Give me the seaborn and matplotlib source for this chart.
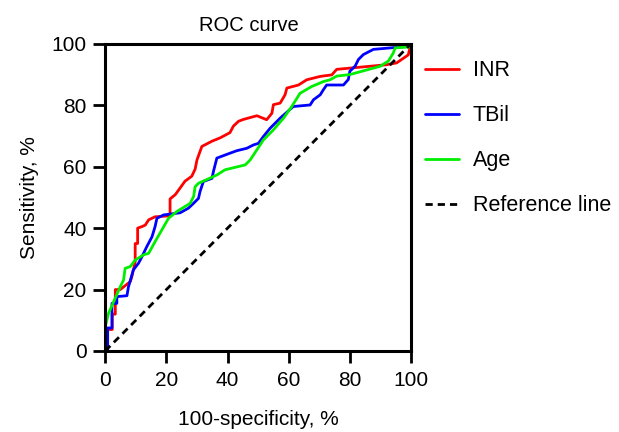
import seaborn as sns
import matplotlib.pyplot as plt
import pandas as pd

# Data (in %)
inr_x = [0, 0.7, 0.7, 2.3, 2.3, 3.3, 3.3, 4.9, 8.2, 8.7, 9.8, 9.8, 10.6, 10.6, 12.0, 13.1, 14.2,
         16.3, 21.2, 21.2, 22.9, 24.0, 26.1, 28.3, 29.4, 30.0, 31.6, 34.9, 37.6, 40.8, 41.9, 43.6,
         45.2, 49.6, 52.8, 54.5, 55.0, 57.2, 58.8, 59.4, 63.2, 65.9, 70.3, 74.1, 75.7, 92.0, 95.3,
         99.1, 100]
inr_y = [0, 0, 7, 7, 12, 12, 20, 20, 22.6, 24.2, 29, 35, 35, 40, 40.5, 41, 42.7,
         43.7, 44, 49.5, 50.9, 52.4, 55.3, 56.9, 59.2, 62.2, 66.6, 68.3, 69.4, 71.1, 73.2, 74.8,
         75.4, 76.6, 75.3, 77.4, 80.2, 80.7, 83.4, 85.6, 86.6, 88.3, 89.4, 89.9, 91.7, 93.2, 93.8,
         96.4, 100]

tbil_x = [0, 0.8, 0.8, 2.2, 2.2, 3.8, 3.8, 7.1, 7.6, 9.2, 10.9, 12.0, 13.6, 15.3, 16.3, 16.9,
          19.1, 24.5, 27.2, 28.9, 30.5, 31.0, 32.1, 34.9, 35.4, 36.5, 40.8, 43.0, 46.3, 48.5,
          50.1, 51.7, 53.9, 55.6, 57.2, 61.5, 67.0, 68.1, 70.3, 71.3, 72.4, 77.9, 79.5, 80.0,
          81.7, 82.8, 84.4, 87.7, 98.0, 99.1, 100]
tbil_y = [0, 0, 7.5, 7.5, 15.5, 15.5, 17.7, 18.0, 20.9, 26.4, 28.6, 30.7, 34.0, 37.2, 40.5, 43.2,
          44.3, 45.0, 46.5, 48.1, 49.7, 51.9, 55.2, 56.2, 58.5, 62.8, 64.4, 65.2, 66.0, 67.1,
          67.6, 69.8, 72.5, 74.2, 75.8, 79.6, 80.1, 81.8, 83.4, 85.0, 86.6, 86.6, 88.4, 91.1,
          92.7, 94.9, 96.5, 98.2, 99.1, 100, 100]

age_x = [0, 0, 1.1, 4.9, 6.0, 6.5, 8.2, 9.8, 12.5, 14.2, 16.3, 18.5, 20.7, 23.4, 27.8, 28.9,
         29.4, 30.5, 36.5, 39.2, 45.8, 47.4, 49.6, 51.7, 55.0, 58.3, 61.0, 63.7, 67.5, 71.3,
         73.5, 75.7, 80.0, 89.9, 92.6, 94.2, 94.8, 99.7, 100]
age_y = [0, 7.9, 12.3, 20.9, 23.1, 26.9, 27.5, 29.6, 31.3, 31.8, 35.6, 39.4, 43.2, 45.4, 48.1, 50.3,
         53.5, 54.6, 57.3, 59.0, 60.6, 62.2, 65.5, 68.7, 72.0, 75.8, 79.6, 83.9, 86.1, 87.7,
         88.3, 89.5, 90.0, 92.7, 94.4, 97.0, 98.7, 99.0, 100]

ref_x = [0, 100]
ref_y = [0, 100]

labels = ['INR', 'TBil', 'Age', 'Reference line']
colors = ['#ff0000', '#0000ff', '#00ee00', 'black']

df = pd.concat([
    pd.DataFrame({'x': inr_x, 'y': inr_y, 'curve': 'INR'}),
    pd.DataFrame({'x': tbil_x, 'y': tbil_y, 'curve': 'TBil'}),
    pd.DataFrame({'x': age_x, 'y': age_y, 'curve': 'Age'}),
    pd.DataFrame({'x': ref_x, 'y': ref_y, 'curve': 'Reference line'}),
])

sns.set_style('ticks')
plt.rcParams['font.family'] = ['Liberation Sans', 'DejaVu Sans']
plt.rcParams.update({'text.color': 'black', 'axes.labelcolor': 'black',
                     'xtick.color': 'black', 'ytick.color': 'black'})

fig = plt.figure(figsize=(6.19, 4.32), dpi=100)
ax = fig.add_axes([0.170, 0.1875, 0.494, 0.711])

sns.lineplot(data=df, x='x', y='y', hue='curve', style='curve', hue_order=labels,
             style_order=labels, palette=colors,
             dashes={'INR': '', 'TBil': '', 'Age': '', 'Reference line': (2.6, 1.8)},
             sort=False, estimator=None, linewidth=2, ax=ax)

ax.set_xlim(0, 100)
ax.set_ylim(0, 100)
ax.set_xticks([0, 20, 40, 60, 80, 100])
ax.set_yticks([0, 20, 40, 60, 80, 100])
ax.tick_params(direction='out', length=8.5, width=2, labelsize=15, colors='black')
ax.tick_params(axis='x', pad=6)
ax.tick_params(axis='y', pad=5)
for s in ax.spines.values():
    s.set_linewidth(2.2)
    s.set_color('black')

ax.set_title('ROC curve', fontsize=14.5, pad=9, x=0.47)
ax.set_xlabel('100-specificity, %', fontsize=15, labelpad=14)
ax.set_ylabel('Sensitivity, %', fontsize=15, labelpad=9)

leg = ax.legend(loc='upper left', bbox_to_anchor=(0.687, 0.861), bbox_transform=fig.transFigure,
                borderaxespad=0, borderpad=0, frameon=False,
                fontsize=15.5, labelspacing=1.12, handlelength=1.55, handletextpad=0.65)
for h in leg.get_lines():
    h.set_linewidth(2)

plt.savefig('out.png', dpi=100)
